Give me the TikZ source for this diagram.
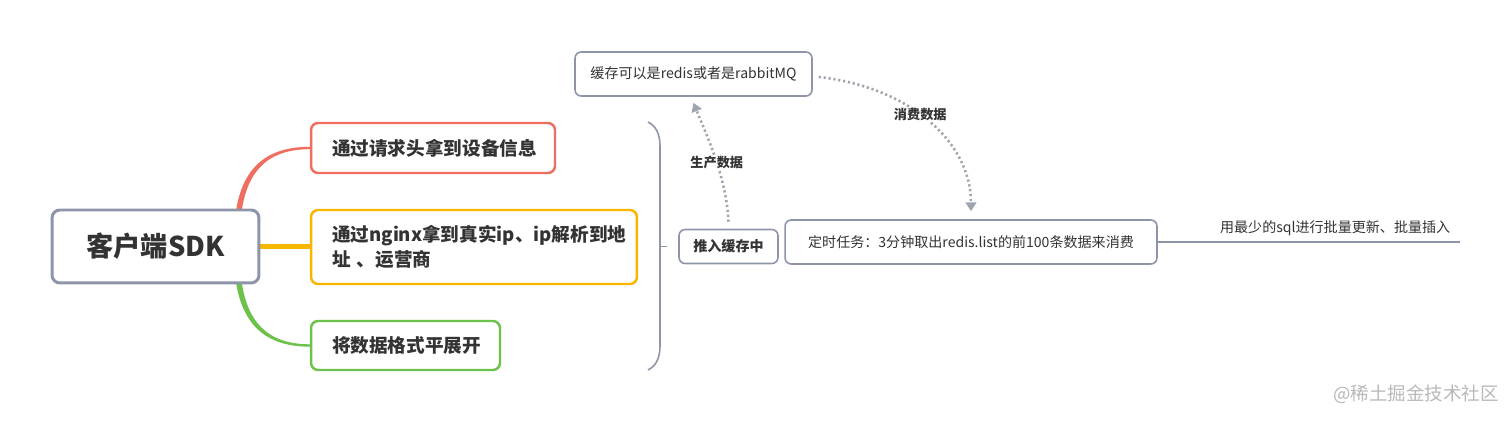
\documentclass[tikz,border=0pt]{standalone}
\usepackage{fontspec}
\setmainfont{Noto Sans CJK SC}
\usepackage{tikz}
\usetikzlibrary{shapes,arrows,positioning,calc,arrows.meta,backgrounds}
\definecolor{mmgray}{RGB}{142,149,168}
\definecolor{mmred}{RGB}{240,110,95}
\definecolor{mmyellow}{RGB}{247,182,0}
\definecolor{mmgreen}{RGB}{108,194,74}
\definecolor{mmtext}{RGB}{51,51,51}
\definecolor{mmarrow}{RGB}{160,164,174}

\begin{document}
\begin{tikzpicture}[x=0.02cm,y=-0.02cm,
  every node/.style={text=mmtext},
  rootbox/.style={draw=mmgray,line width=1.7pt,fill=white,rounded corners=4.5pt,minimum width=4.14cm,minimum height=1.46cm,font=\fontsize{15.5}{18}\selectfont\bfseries},
  topic/.style={draw=#1,line width=1.4pt,fill=white,rounded corners=4pt,align=left,inner xsep=0.42cm,font=\fontsize{10.6}{14.2}\selectfont\bfseries},
  subbox/.style={draw=mmgray,line width=0.9pt,fill=white,rounded corners=3.5pt,font=\fontsize{8}{10}\selectfont},
  flow/.style={mmarrow,line width=1.5pt,dash pattern=on 1.2pt off 1.6pt,-{Triangle[length=5pt,width=6pt]}},
  lbl/.style={fill=white,inner sep=0.5pt,font=\fontsize{7.5}{9}\selectfont\bfseries}]

  \useasboundingbox (0,0) rectangle (1512,422);

  % main topic and its three branches
  \node[rootbox] (sdk) at (155.5,246.5) {客户端SDK};
  \node[topic=mmred,text width=4.04cm,minimum height=1cm] (head) at (433,148) {通过请求头拿到设备信息};
  \node[topic=mmyellow,text width=5.68cm,minimum height=1.48cm] (nginx) at (474,247) {通过nginx拿到真实ip、ip解析到地\\址 、运营商};
  \node[topic=mmgreen,text width=2.94cm,minimum height=0.98cm] (flat) at (405.5,345.5) {将数据格式平展开};

  \begin{pgfonlayer}{background}
    \fill[mmred] ($(sdk.north east)+(-26,15)$) .. controls +(4,-50) and +(-49,0) .. ($(head.west)+(0,-1.2)$)
      -- ($(head.west)+(0,1.2)$) .. controls +(-46,0) and +(3,-48) .. ($(sdk.north east)+(-20,15)$) -- cycle;
    \fill[mmgreen] ($(sdk.south east)+(-26,-15)$) .. controls +(4,50) and +(-49,0) .. ($(flat.west)+(0,1.2)$)
      -- ($(flat.west)+(0,-1.2)$) .. controls +(-46,0) and +(3,48) .. ($(sdk.south east)+(-20,-15)$) -- cycle;
    \draw[mmyellow,line width=2.3pt] (sdk.east) -- (sdk.east -| nginx.west);
  \end{pgfonlayer}

  % brace to the cache step
  \draw[mmgray,line width=0.9pt] (648,122) .. controls (656,126) and (660,134) .. (660,146)
    -- (660,346) .. controls (660,358) and (656,366) .. (648,370);
  \coordinate (bmid) at (660,246.5);

  \node[subbox,minimum width=1.98cm,minimum height=0.68cm,font=\fontsize{8}{10}\selectfont\bfseries] (push) at (728.5,246.5) {推入缓存中};
  \node[subbox,minimum width=4.74cm,minimum height=0.88cm] (cache) at (693.5,74) {缓存可以是redis或者是rabbitMQ};
  \node[subbox,minimum width=7.44cm,minimum height=0.88cm] (timer) at (971,242) {定时任务：3分钟取出redis.list的前100条数据来消费};
  \coordinate (lineend) at (1460,242);

  \draw[mmgray,line width=0.9pt] (bmid) -- ([xshift=-0.22cm]push.west);

  \draw[flow] ([yshift=0.14cm]push.north) .. controls +(-2,-45) and +(12,30) .. ([yshift=-0.12cm]cache.south)
    node[lbl,pos=0.45] (prod) {生产数据};
  \draw[flow] ([xshift=0.12cm,yshift=-0.06cm]cache.east) .. controls +(90,10) and +(0,-70) .. ([yshift=0.16cm]timer.north)
    node[lbl,pos=0.45] (cons) {消费数据};

  \draw[mmgray,line width=0.9pt] (timer.east) -- (lineend)
    node[above,pos=0.587,font=\fontsize{8}{10}\selectfont] (batch) {用最少的sql进行批量更新、批量插入};

  \node[text=black!28,font=\fontsize{10.5}{12}\selectfont] (mark) at (1416,394) {@稀土掘金技术社区};
\end{tikzpicture}
\end{document}
